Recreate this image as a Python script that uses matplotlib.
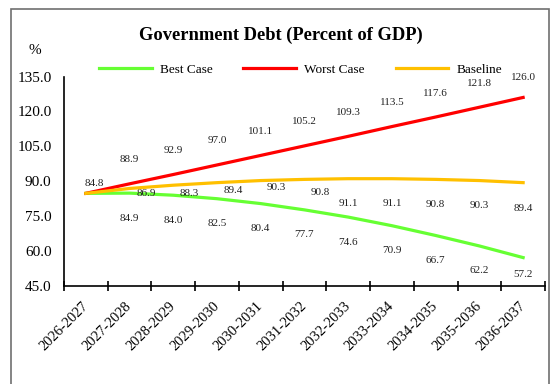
import numpy as np
import matplotlib.pyplot as plt
from matplotlib.patches import Rectangle

plt.rcParams['font.family'] = ['Liberation Serif', 'DejaVu Serif']

years = ['2026-2027', '2027-2028', '2028-2029', '2029-2030', '2030-2031', '2031-2032',
         '2032-2033', '2033-2034', '2034-2035', '2035-2036', '2036-2037']
best_case = [84.8, 84.9, 84.0, 82.5, 80.4, 77.7, 74.6, 70.9, 66.7, 62.2, 57.2]
worst_case = [84.8, 88.9, 92.9, 97.0, 101.1, 105.2, 109.3, 113.5, 117.6, 121.8, 126.0]
baseline = [84.8, 86.9, 88.3, 89.4, 90.3, 90.8, 91.1, 91.1, 90.8, 90.3, 89.4]

# label offsets in pixels (dx, dy), dy positive = up
best_off = [None] + [(0, -25)] * 9 + [(0, -17)]
worst_off = [(8, 10)] + [(0, 24)] * 9 + [(0, 20)]
base_off = [None, (17, -5), (16, -8), (16, -8), (15, -7), (16, -13),
            (0, -25), (0, -25), (0, -25), (0, -25), (0, -26)]

fig = plt.figure(figsize=(5.51, 3.84), dpi=100)
ax = fig.add_axes([64 / 551, 98 / 384, 481 / 551, 209.5 / 384])

x = np.arange(len(years))
ax.plot(x, best_case, color='#66FF33', lw=2.3, label='Best Case', zorder=2)
ax.plot(x, worst_case, color='#FF0000', lw=2.3, label='Worst Case', zorder=3)
ax.plot(x, baseline, color='#FFC000', lw=2.3, label='Baseline', zorder=4)

for series, offs in [(best_case, best_off), (worst_case, worst_off), (baseline, base_off)]:
    for i, v in enumerate(series):
        if offs[i] is None:
            continue
        ax.annotate(f'{v:.1f}', (x[i], v), xytext=offs[i], textcoords='offset pixels',
                    ha='center', va='center', fontsize=8, color='#222222')

ax.set_xlim(-0.5, len(years) - 0.5)
ax.set_ylim(45, 135)
ax.set_yticks(np.arange(45, 136, 15))
ax.set_yticklabels([f'{v:.1f}' for v in np.arange(45, 136, 15)], fontsize=11)
ax.tick_params(axis='y', length=0, pad=9)

ax.set_xticks(x)
ax.set_xticklabels(years, rotation=45, ha='right', va='center', rotation_mode='anchor', fontsize=10.5)
ax.tick_params(axis='x', which='major', length=0, pad=13)
ax.set_xticks(np.arange(-0.5, len(years)), minor=True)
ax.tick_params(axis='x', which='minor', direction='inout', length=7, width=1.2, color='black')

for s in ['top', 'right']:
    ax.spines[s].set_visible(False)
for s in ['left', 'bottom']:
    ax.spines[s].set_linewidth(1.2)
    ax.spines[s].set_color('black')

fig.text(281 / 551, 1 - 35 / 384, 'Government Debt (Percent of GDP)', ha='center', va='center',
         fontsize=13.3, fontweight='bold')
fig.text(35 / 551, 1 - 50 / 384, '%', ha='center', va='center', fontsize=11)

fig.legend(loc='center', bbox_to_anchor=(300.5 / 551, 1 - 70 / 384), ncol=3, frameon=False,
           fontsize=9.5, handlelength=4.0, handletextpad=0.6, columnspacing=2.35)

fig.patches.append(Rectangle((10.5 / 551, -0.05), 538 / 551, 1.05 - 9.5 / 384,
                             transform=fig.transFigure, fill=False, edgecolor='#6f6f6f', lw=1.2))

fig.savefig('out.png', dpi=100)
